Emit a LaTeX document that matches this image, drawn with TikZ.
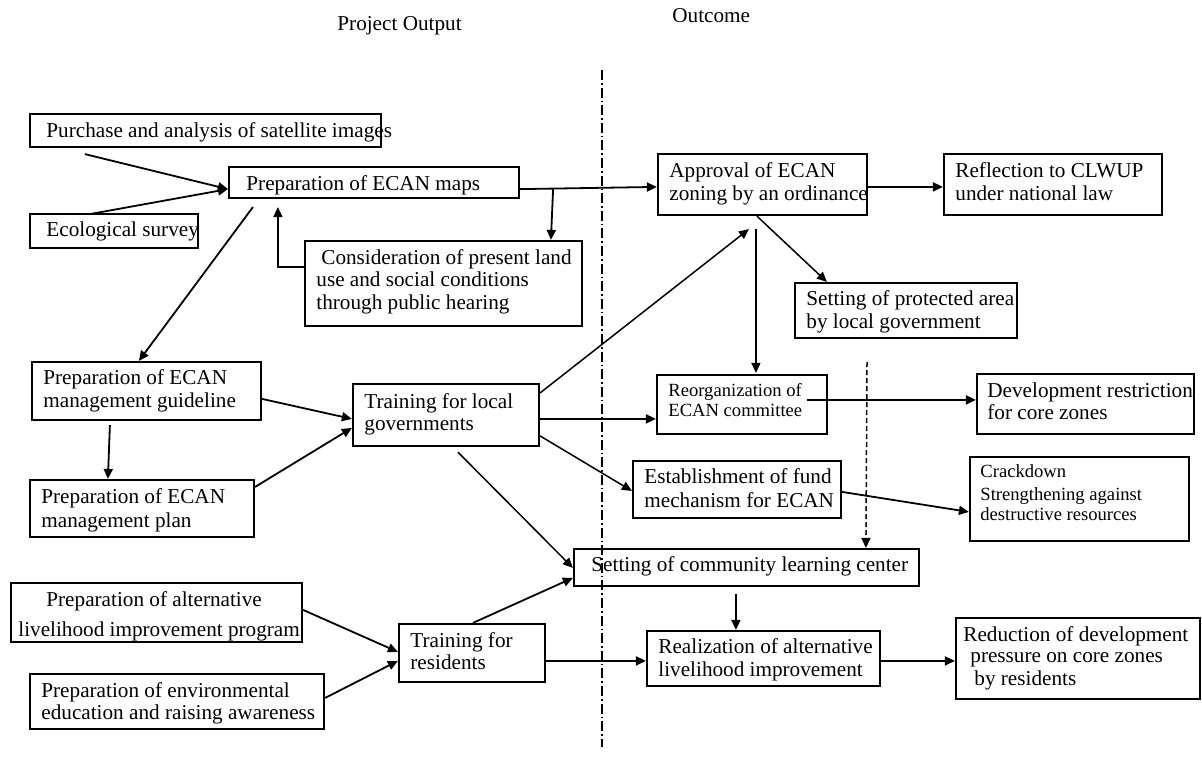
\documentclass[tikz,border=0pt]{standalone}
\usepackage{fontspec}
\setmainfont{Liberation Serif}
\usetikzlibrary{arrows.meta,fit,calc}
\begin{document}
\begin{tikzpicture}[x=0.5pt,y=-0.5pt,
  box/.style={draw, line width=1.1pt, inner sep=0pt},
  txt/.style={inner sep=0pt, anchor=base west, font=\fontsize{10.6}{12}\selectfont},
  stxt/.style={inner sep=0pt, anchor=base west, font=\fontsize{9.3}{11}\selectfont},
  arr/.style={-{Triangle[length=5pt,width=4.5pt]}, line width=0.9pt},
  thinarr/.style={-{Triangle[length=5pt,width=4.5pt]}, line width=0.75pt},
]
\fill[white] (0,0) rectangle (1202,757);
\useasboundingbox (0,0) rectangle (1202,757);

% titles
\node[txt] (tPO) at (337,30) {Project Output};
\node[txt] (tOut) at (672,22) {Outcome};

% divider
\coordinate (dd1) at (602,70);
\coordinate (dd2) at (602,747);
\draw[line width=0.8pt, dash pattern=on 5pt off 1.5pt on 0.8pt off 1.5pt] (dd1) -- (dd2);

% boxes
\node[box, fit={(30,114)(381,147)}] (purchase) {};
\node[box, fit={(229,167)(519,198)}] (maps) {};
\node[box, fit={(30,214)(198,248)}] (eco) {};
\node[box, fit={(305,241)(582,326)}] (cons) {};
\node[box, fit={(658,154)(867,215)}] (appr) {};
\node[box, fit={(944,154)(1162,215)}] (refl) {};
\node[box, fit={(795,283)(1017,338)}] (prot) {};
\node[box, fit={(32,362)(261,420)}] (guide) {};
\node[box, fit={(30,480)(254,537)}] (plan) {};
\node[box, fit={(353,384)(539,446)}] (trloc) {};
\node[box, fit={(657,375)(827,434)}] (reorg) {};
\node[box, fit={(977,374)(1194,434)}] (devr) {};
\node[box, fit={(633,461)(841,518)}] (fund) {};
\node[box, fit={(970,457)(1189,541)}] (crack) {};
\node[box, fit={(574,549)(919,586)}] (comm) {};
\node[box, fit={(11,583)(302,642)}] (alt) {};
\node[box, fit={(399,624)(545,682)}] (res) {};
\node[box, fit={(30,674)(324,729)}] (env) {};
\node[box, fit={(647,631)(880,686)}] (real) {};
\node[box, fit={(956,618)(1200,699)}] (redu) {};

% texts
\node[txt] (purchaseT) at (46,137) {Purchase and analysis of satellite images};
\node[txt] (mapsT) at (246,190) {Preparation of ECAN maps};
\node[txt] (ecoT) at (46,236) {Ecological survey};
\node[txt] (consT1) at (321,264) {Consideration of present land};
\node[txt] (consT2) at (316,286) {use and social conditions};
\node[txt] (consT3) at (316,309) {through public hearing};
\node[txt] (apprT1) at (669,177) {Approval of ECAN};
\node[txt] (apprT2) at (669,200) {zoning by an ordinance};
\node[txt] (reflT1) at (955,177) {Reflection to CLWUP};
\node[txt] (reflT2) at (955,200) {under national law};
\node[txt] (protT1) at (806,305) {Setting of protected area};
\node[txt] (protT2) at (806,328) {by local government};
\node[txt] (guideT1) at (43,384) {Preparation of ECAN};
\node[txt] (guideT2) at (43,407) {management guideline};
\node[txt] (planT1) at (41,503) {Preparation of ECAN};
\node[txt] (planT2) at (41,527) {management plan};
\node[txt] (trlocT1) at (364,408) {Training for local};
\node[txt] (trlocT2) at (364,430) {governments};
\node[stxt] (reorgT1) at (668,396) {Reorganization of};
\node[stxt] (reorgT2) at (668,416) {ECAN committee};
\node[txt] (devrT1) at (987,397) {Development restriction};
\node[txt] (devrT2) at (987,419) {for core zones};
\node[txt] (fundT1) at (644,483) {Establishment of fund};
\node[txt] (fundT2) at (644,507) {mechanism for ECAN};
\node[stxt] (crackT1) at (980,477) {Crackdown};
\node[stxt] (crackT2) at (980,500) {Strengthening against};
\node[stxt] (crackT3) at (980,520) {destructive resources};
\node[txt] (commT) at (591,571) {Setting of community learning center};
\node[txt] (altT1) at (46,606) {Preparation of alternative};
\node[txt] (altT2) at (18,636) {livelihood improvement program};
\node[txt] (resT1) at (410,647) {Training for};
\node[txt] (resT2) at (410,669) {residents};
\node[txt] (envT1) at (41,697) {Preparation of environmental};
\node[txt] (envT2) at (41,719) {education and raising awareness};
\node[txt] (realT1) at (658,653) {Realization of alternative};
\node[txt] (realT2) at (658,676) {livelihood improvement};
\node[txt] (reduT1) at (963,641) {Reduction of development};
\node[txt] (reduT2) at (970,662) {pressure on core zones};
\node[txt] (reduT3) at (974,685) {by residents};

% connectors
\draw[arr] ([shift={(56,6)}]purchase.south west) -- ([shift={(0,-10)}]maps.south west);
\draw[arr] ([shift={(62,1)}]eco.north west) -- ([shift={(0,-10)}]maps.south west);
\draw[arr] ([shift={(25,8)}]maps.south west) -- ([shift={(108,0)}]guide.north west);
\draw[arr] ([shift={(0,27)}]cons.north west) -| ([shift={(50,8)}]maps.south west);
\draw[arr] ([shift={(0,-10)}]maps.south east) -- ([shift={(0,34)}]appr.north west);
\draw[arr] ([shift={(33,-10)}]maps.south east) -- ([shift={(247,0)}]cons.north west);
\draw[arr] ([shift={(0,34)}]appr.north east) -- ([shift={(0,34)}]refl.north west);
\draw[thinarr] ([shift={(100,0)}]appr.south west) -- ([shift={(33,0)}]prot.north west);
\draw[thinarr] ([shift={(99,13)}]appr.south west) -- ([shift={(100,-1)}]reorg.north west);
\draw[thinarr] ([shift={(0,10)}]trloc.north east) -- ([shift={(92,13)}]appr.south west);
\draw[arr] ([shift={(0,38)}]guide.north east) -- ([shift={(0,36)}]trloc.north west);
\draw[arr] ([shift={(79,4)}]guide.south west) -- ([shift={(79,0)}]plan.north west);
\draw[arr] ([shift={(0,8)}]plan.north east) -- ([shift={(0,45)}]trloc.north west);
\draw[arr] ([shift={(0,36)}]trloc.north east) -- ([shift={(0,45)}]reorg.north west);
\draw[thinarr] ([shift={(0,53)}]trloc.north east) -- ([shift={(0,31)}]fund.north west);
\draw[thinarr] ([shift={(106,5)}]trloc.south west) -- ([shift={(0,20)}]comm.north west);
\draw[arr] ([shift={(-21,26)}]reorg.north east) -- ([shift={(0,27)}]devr.north west);
\coordinate (dashtop) at (867,362);
\draw[thinarr, dash pattern=on 2.5pt off 1.5pt] (dashtop) -- ([shift={(293,0)}]comm.north west);
\draw[arr] ([shift={(0,32)}]fund.north east) -- ([shift={(0,56)}]crack.north west);
\draw[arr] ([shift={(75,0)}]res.north west) -- ([shift={(0,30)}]comm.north west);
\draw[thinarr] ([shift={(163,7)}]comm.south west) -- ([shift={(90,0)}]real.north west);
\draw[arr] ([shift={(0,28)}]alt.north east) -- ([shift={(0,29)}]res.north west);
\draw[arr] ([shift={(0,25)}]env.north east) -- ([shift={(0,38)}]res.north west);
\draw[arr] ([shift={(0,38)}]res.north east) -- ([shift={(0,31)}]real.north west);
\draw[arr] ([shift={(0,31)}]real.north east) -- ([shift={(0,44)}]redu.north west);
\end{tikzpicture}
\end{document}
